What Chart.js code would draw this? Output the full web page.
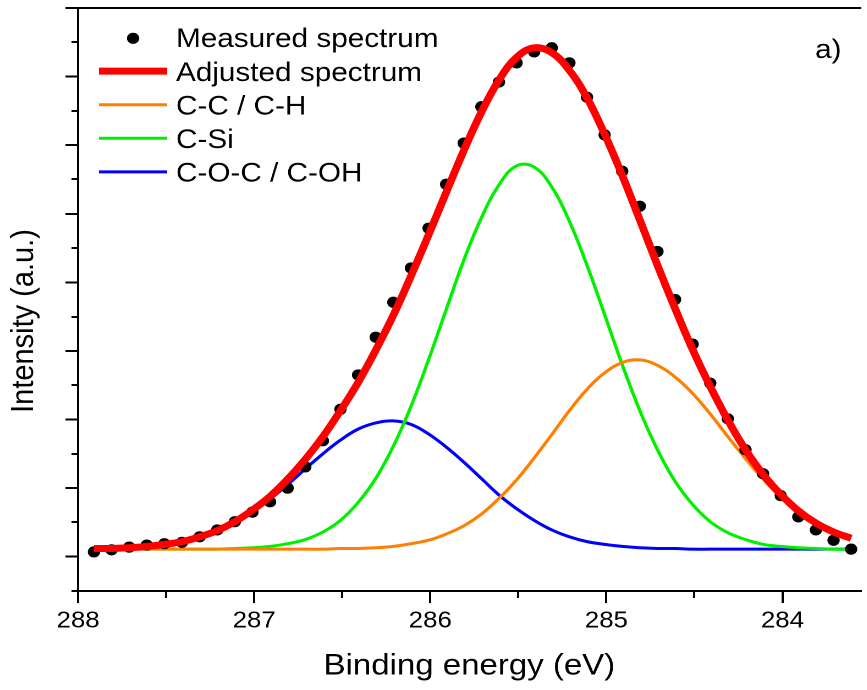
<!DOCTYPE html>
<html>
<head>
<meta charset="utf-8">
<title>C 1s spectrum</title>
<script src="https://cdn.jsdelivr.net/npm/chart.js@4.4.0/dist/chart.umd.min.js"></script>
<style>
  html, body { margin: 0; padding: 0; background: #fff; overflow: hidden; }
  /* the figure is slightly wider than tall in its lettering, so stretch it horizontally */
  #wrap { width: 788px; height: 690px; transform: scaleX(1.1); transform-origin: 0 0; }
</style>
</head>
<body>
<div id="wrap"><canvas id="xpsChart"></canvas></div>
<script>
// binding energy (eV), one point every 0.1 eV
const energy = [287.91, 287.81, 287.71, 287.61, 287.51, 287.41, 287.31, 287.21, 287.11, 287.01,
                286.91, 286.81, 286.71, 286.61, 286.51, 286.41, 286.31, 286.21, 286.11, 286.01,
                285.91, 285.81, 285.71, 285.61, 285.51, 285.41, 285.31, 285.21, 285.11, 285.01,
                284.91, 284.81, 284.71, 284.61, 284.51, 284.41, 284.31, 284.21, 284.11, 284.01,
                283.91, 283.81, 283.71, 283.61];

// intensities in arbitrary units
const measured = [0.07, 0.10, 0.14, 0.17, 0.19, 0.21, 0.29, 0.39, 0.51, 0.65,
                  0.80, 1.00, 1.31, 1.69, 2.15, 2.65, 3.20, 3.71, 4.21, 4.79,
                  5.43, 6.03, 6.56, 6.92, 7.20, 7.36, 7.42, 7.20, 6.70, 6.15,
                  5.62, 5.11, 4.45, 3.75, 3.10, 2.53, 2.01, 1.56, 1.21, 0.89,
                  0.58, 0.39, 0.24, 0.11];

const adjusted = [0.12, 0.12, 0.13, 0.15, 0.18, 0.22, 0.29, 0.38, 0.51, 0.68,
                  0.88, 1.13, 1.42, 1.75, 2.13, 2.54, 3.01, 3.52, 4.09, 4.69,
                  5.31, 5.92, 6.48, 6.95, 7.28, 7.42, 7.35, 7.09, 6.69, 6.16,
                  5.56, 4.91, 4.25, 3.62, 3.02, 2.48, 1.99, 1.56, 1.20, 0.91,
                  0.67, 0.49, 0.36, 0.27];

const peakCC = [0.11, 0.11, 0.11, 0.11, 0.11, 0.11, 0.11, 0.11, 0.11, 0.11,
                0.11, 0.11, 0.11, 0.11, 0.12, 0.12, 0.13, 0.15, 0.19, 0.24,
                0.33, 0.45, 0.62, 0.85, 1.12, 1.44, 1.78, 2.13, 2.44, 2.68,
                2.83, 2.87, 2.79, 2.62, 2.38, 2.08, 1.75, 1.43, 1.13, 0.87,
                0.65, 0.48, 0.36, 0.27];

const peakCSi = [0.11, 0.11, 0.11, 0.11, 0.11, 0.11, 0.11, 0.11, 0.12, 0.13,
                 0.15, 0.19, 0.25, 0.36, 0.53, 0.79, 1.14, 1.61, 2.19, 2.87,
                 3.60, 4.32, 4.94, 5.42, 5.70, 5.68, 5.39, 4.89, 4.25, 3.53,
                 2.80, 2.13, 1.56, 1.10, 0.76, 0.51, 0.35, 0.25, 0.18, 0.15,
                 0.13, 0.12, 0.11, 0.11];

const peakCOC = [0.12, 0.12, 0.13, 0.15, 0.18, 0.22, 0.29, 0.38, 0.50, 0.66,
                 0.84, 1.05, 1.28, 1.50, 1.70, 1.86, 1.95, 1.98, 1.93, 1.79,
                 1.60, 1.38, 1.14, 0.90, 0.70, 0.53, 0.39, 0.29, 0.22, 0.18,
                 0.15, 0.13, 0.12, 0.12, 0.11, 0.11, 0.11, 0.11, 0.11, 0.11,
                 0.11, 0.11, 0.11, 0.11];

const seriesNames = ['Measured spectrum', 'Adjusted spectrum', 'C-C / C-H', 'C-Si', 'C-O-C / C-OH'];

const FONT = "'Liberation Sans', Arial, sans-serif";

function toPoints(values) {
  return energy.map((e, i) => ({ x: e, y: values[i] }));
}

function curve(label, values, color, width, order) {
  return {
    label: label,
    data: toPoints(values),
    borderColor: color,
    backgroundColor: color,
    borderWidth: width,
    pointRadius: 0,
    tension: 0.4,
    fill: false,
    order: order
  };
}

// short ticks halfway between the long ones
const minorTicks = {
  id: 'minorTicks',
  afterDraw(chart) {
    const { ctx } = chart;
    const xs = chart.scales.x;
    const ys = chart.scales.y;
    ctx.save();
    ctx.strokeStyle = '#000';
    ctx.lineWidth = 2;
    ctx.beginPath();
    for (let v = 287.5; v > xs.min; v -= 1) {
      const px = Math.round(xs.getPixelForValue(v));
      ctx.moveTo(px, xs.top);
      ctx.lineTo(px, xs.top + 7);
    }
    for (let v = -0.5; v < ys.max; v += 1) {
      const py = Math.round(ys.getPixelForValue(v));
      ctx.moveTo(ys.right - 6, py);
      ctx.lineTo(ys.right, py);
    }
    ctx.stroke();
    ctx.restore();
  }
};

// legend drawn inside the plot, top left
const insideLegend = {
  id: 'insideLegend',
  afterDatasetsDraw(chart) {
    const { ctx, chartArea } = chart;
    const x0 = chartArea.left + 19;
    const x1 = chartArea.left + 81;
    ctx.save();
    ctx.font = '27px ' + FONT;
    ctx.fillStyle = '#000';
    ctx.textAlign = 'left';
    ctx.textBaseline = 'alphabetic';
    chart.data.datasets.forEach((ds, i) => {
      const rowY = chartArea.top + 29.5 + 33.6 * i;
      if (ds.showLine === false) {
        ctx.beginPath();
        ctx.arc((x0 + x1) / 2, rowY + 0.8, ds.pointRadius, 0, Math.PI * 2);
        ctx.fillStyle = ds.pointBackgroundColor;
        ctx.fill();
      } else {
        ctx.beginPath();
        ctx.moveTo(x0, rowY);
        ctx.lineTo(x1, rowY);
        ctx.strokeStyle = ds.borderColor;
        ctx.lineWidth = ds.borderWidth;
        ctx.stroke();
      }
      ctx.fillStyle = '#000';
      ctx.fillText(ds.label, x1 + 8, rowY + 9.7);
    });
    ctx.restore();
  }
};

// y title sits a little below the middle of the axis, plus the panel letter
const extraText = {
  id: 'extraText',
  afterDraw(chart) {
    const { ctx } = chart;
    ctx.save();
    ctx.fillStyle = '#000';
    ctx.font = '29px ' + FONT;
    ctx.translate(22, 321);
    ctx.rotate(-Math.PI / 2);
    ctx.textAlign = 'center';
    ctx.textBaseline = 'middle';
    ctx.fillText('Intensity (a.u.)', 0, 0);
    ctx.restore();

    ctx.save();
    ctx.fillStyle = '#000';
    ctx.font = '27px ' + FONT;
    ctx.textAlign = 'left';
    ctx.textBaseline = 'alphabetic';
    ctx.fillText('a)', 741, 58);
    ctx.restore();
  }
};

const ctx = document.getElementById('xpsChart').getContext('2d');
new Chart(ctx, {
  type: 'line',
  data: {
    datasets: [
      {
        label: seriesNames[0],
        data: toPoints(measured),
        showLine: false,
        pointRadius: 5.6,
        pointBorderWidth: 0,
        pointBackgroundColor: '#000',
        borderColor: '#000',
        order: 1
      },
      curve(seriesNames[1], adjusted, '#ff0000', 7, 0),
      curve(seriesNames[2], peakCC, '#ff8000', 3, 2),
      curve(seriesNames[3], peakCSi, '#00f000', 3, 2),
      curve(seriesNames[4], peakCOC, '#0000ff', 3, 2)
    ]
  },
  options: {
    responsive: true,
    maintainAspectRatio: false,
    devicePixelRatio: 2,
    animation: false,
    events: [],
    layout: { padding: 0 },
    plugins: {
      legend: { display: false },
      tooltip: { enabled: false }
    },
    scales: {
      x: {
        type: 'linear',
        position: 'bottom',
        reverse: true,
        min: 283.556,
        max: 288,
        ticks: {
          stepSize: 1,
          includeBounds: false,
          padding: 4,
          color: '#000',
          maxRotation: 0,
          autoSkip: false,
          font: { family: FONT, size: 23.5 }
        },
        grid: { drawOnChartArea: false, tickLength: 12, color: '#000', lineWidth: 2 },
        border: { display: true, color: '#000', width: 2 },
        title: {
          display: true,
          text: 'Binding energy (eV)',
          color: '#000',
          font: { family: FONT, size: 30 },
          padding: { top: 0, bottom: 6 }
        },
        afterFit(scale) { scale.height = 99; }
      },
      xTop: {
        type: 'linear',
        position: 'top',
        reverse: true,
        min: 283.556,
        max: 288,
        ticks: { display: false },
        grid: { display: false },
        border: { display: true, color: '#000', width: 2 },
        afterFit(scale) { scale.height = 8; }
      },
      y: {
        type: 'linear',
        position: 'left',
        min: -0.5,
        max: 8,
        ticks: { display: false, stepSize: 1, includeBounds: false },
        grid: { drawOnChartArea: false, tickLength: 11.5, color: '#000', lineWidth: 2 },
        border: { display: true, color: '#000', width: 2 },
        afterFit(scale) { scale.width = 71; }
      }
    }
  },
  plugins: [minorTicks, insideLegend, extraText]
});
</script>
</body>
</html>
